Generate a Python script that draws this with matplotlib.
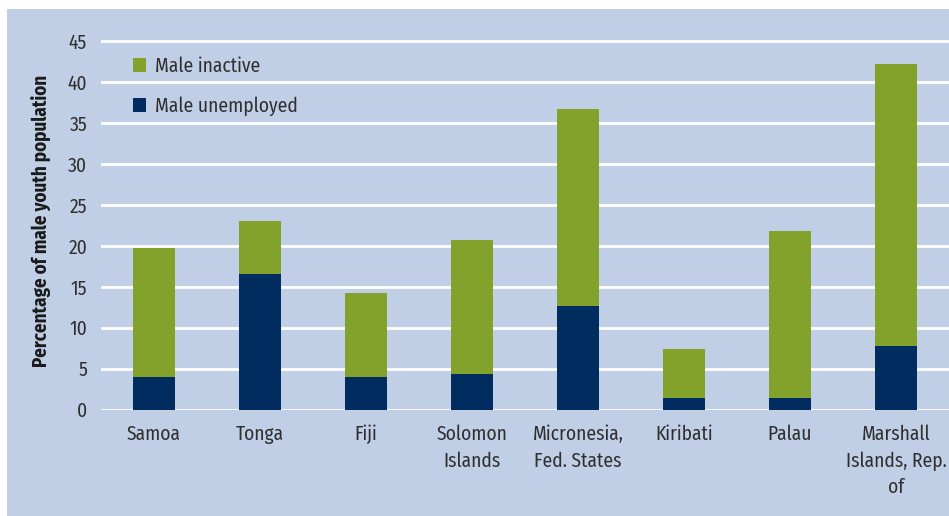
import matplotlib.pyplot as plt
from matplotlib.patches import Rectangle
from matplotlib import font_manager

countries = ['Samoa', 'Tonga', 'Fiji', 'Solomon\nIslands', 'Micronesia,\nFed. States',
             'Kiribati', 'Palau', 'Marshall\nIslands, Rep.\nof']
unemployed = [4.0, 16.6, 4.0, 4.4, 12.7, 1.35, 1.45, 7.8]
total = [19.7, 23.0, 14.2, 20.7, 36.8, 7.45, 21.8, 42.3]
inactive = [t - u for t, u in zip(total, unemployed)]

names = {f.name for f in font_manager.fontManager.ttflist}
pick = [n for n in ['Fira Sans Condensed', 'Roboto Condensed', 'Open Sans Condensed',
                    'Liberation Sans Narrow', 'DejaVu Sans'] if n in names]
plt.rcParams['font.family'] = pick[:1] + ['DejaVu Sans']

BG = '#c0cfe6'
GREEN = '#82a22c'
NAVY = '#002c60'
TXT = '#2f2f2f'

fig = plt.figure(figsize=(9.49, 5.16), dpi=100)
fig.patch.set_facecolor('white')
fig.patches.append(Rectangle((7 / 949, 0), 1, 1 - 9 / 516, transform=fig.transFigure,
                             facecolor=BG, edgecolor='none', zorder=0))

ax = fig.add_axes([101 / 949, 1 - 409.5 / 516, 848 / 949, 376.2 / 516])
ax.set_zorder(2)
ax.set_facecolor('none')

x = range(len(countries))
ax.bar(x, unemployed, width=0.405, color=NAVY, label='Male unemployed', zorder=3)
ax.bar(x, inactive, width=0.405, bottom=unemployed, color=GREEN, label='Male inactive', zorder=3)

ax.set_xlim(-0.5, 7.5)
ax.set_ylim(0, 46)
ax.set_yticks(range(0, 50, 5))
ax.yaxis.grid(True, color='white', linewidth=2, zorder=1)
ax.set_axisbelow(True)
for s in ax.spines.values():
    s.set_visible(False)
ax.set_xticks(list(x))
ax.set_xticklabels(countries, fontsize=14, color=TXT, linespacing=1.45, va='top')
ax.tick_params(axis='both', length=0, labelsize=14, labelcolor=TXT)
ax.tick_params(axis='x', pad=11)
ax.tick_params(axis='y', pad=10)
ax.set_ylabel('Percentage of male youth population', fontsize=13.7, fontweight='bold',
              color='#1a1a1a', labelpad=12)

h, l = ax.get_legend_handles_labels()
leg = ax.legend(h[::-1], l[::-1], loc='upper left', bbox_to_anchor=(0.017, 0.985),
                frameon=False, fontsize=14, handlelength=0.68, handleheight=0.68,
                handletextpad=0.45, labelspacing=1.05, labelcolor=TXT)

fig.savefig('out.png', dpi=100)
